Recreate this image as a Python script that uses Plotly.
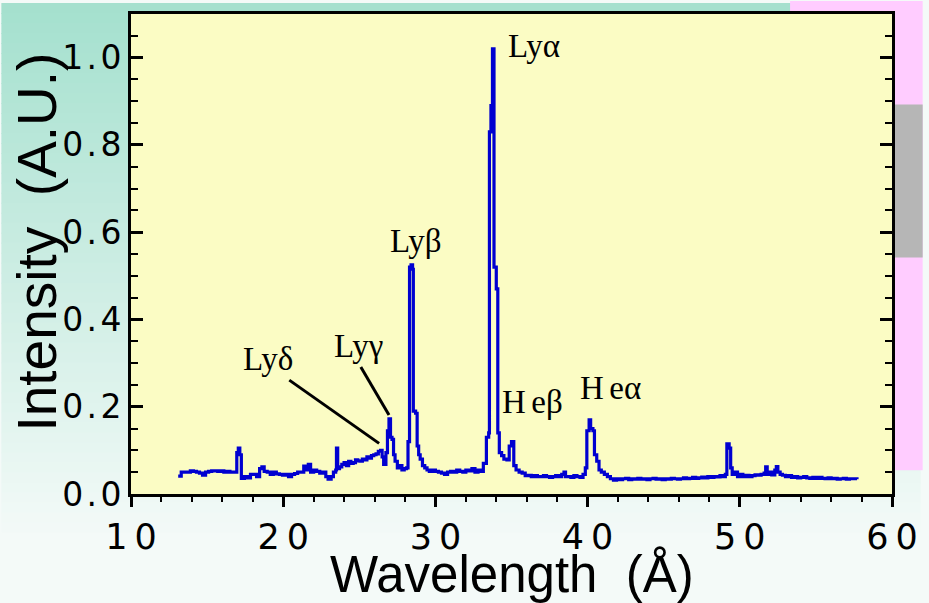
import plotly.graph_objects as go

# Spectrum: wavelength (Angstrom) and relative intensity
wavelength = [
    13.1, 13.3, 13.5, 13.7, 13.9, 14.1, 14.3, 14.5, 14.7, 14.9, 15.1, 15.3, 15.5, 15.7, 15.9,
    16.1, 16.3, 16.5, 16.7, 16.9, 16.95, 17.05, 17.15, 17.25, 17.45, 17.65, 17.85, 18.05, 18.25,
    18.45, 18.6, 18.75, 18.95, 19.15, 19.35, 19.55, 19.75, 19.95, 20.15, 20.35, 20.55, 20.75,
    20.95, 21.15, 21.35, 21.5, 21.65, 21.8, 22.0, 22.2, 22.4, 22.6, 22.8, 22.95, 23.15, 23.3,
    23.45, 23.5, 23.58, 23.7, 23.85, 24.0, 24.15, 24.3, 24.45, 24.6, 24.75, 24.9, 25.05, 25.2,
    25.35, 25.5, 25.65, 25.8, 25.95, 26.1, 26.25, 26.4, 26.5, 26.6, 26.75, 26.85, 26.95, 27.05,
    27.15, 27.25, 27.35, 27.5, 27.65, 27.8, 27.95, 28.1, 28.2, 28.3, 28.4, 28.5, 28.55, 28.7,
    28.8, 28.9, 29.0, 29.15, 29.3, 29.45, 29.6, 29.8, 30.0, 30.2, 30.4, 30.6, 30.8, 31.0, 31.2,
    31.4, 31.6, 31.8, 32.0, 32.2, 32.4, 32.6, 32.8, 33.0, 33.15, 33.35, 33.5, 33.55, 33.65,
    33.75, 33.85, 34.0, 34.1, 34.2, 34.35, 34.5, 34.7, 34.85, 35.0, 35.15, 35.3, 35.5, 35.7,
    35.9, 36.1, 36.3, 36.5, 36.7, 36.9, 37.1, 37.3, 37.5, 37.7, 37.9, 38.1, 38.3, 38.45, 38.55,
    38.7, 38.9, 39.1, 39.3, 39.5, 39.7, 39.85, 39.95, 40.1, 40.2, 40.35, 40.45, 40.6, 40.75,
    40.9, 41.1, 41.3, 41.5, 41.7, 41.9, 42.1, 42.3, 42.5, 42.7, 42.9, 43.1, 43.3, 43.5, 43.7,
    43.9, 44.1, 44.3, 44.5, 44.7, 44.9, 45.1, 45.3, 45.5, 45.7, 45.9, 46.1, 46.3, 46.5, 46.7,
    46.9, 47.1, 47.3, 47.5, 47.7, 47.9, 48.1, 48.3, 48.5, 48.7, 48.9, 49.05, 49.15, 49.3, 49.4,
    49.5, 49.7, 49.85, 50.0, 50.2, 50.4, 50.6, 50.8, 51.0, 51.2, 51.4, 51.6, 51.7, 51.8, 51.95,
    52.1, 52.3, 52.4, 52.5, 52.65, 52.8, 53.0, 53.2, 53.4, 53.6, 53.8, 54.0, 54.2, 54.4, 54.6,
    54.8, 55.0, 55.2, 55.4, 55.6, 55.8, 56.0, 56.2, 56.4, 56.6, 56.8, 57.0, 57.2, 57.4, 57.7,
]
intensity = [
    0.041, 0.050, 0.050, 0.050, 0.053, 0.052, 0.050, 0.048, 0.043, 0.050, 0.052, 0.053, 0.053, 0.052, 0.053,
    0.050, 0.052, 0.050, 0.050, 0.050, 0.095, 0.105, 0.090, 0.036, 0.040, 0.037, 0.045, 0.045, 0.040,
    0.058, 0.062, 0.052, 0.050, 0.045, 0.050, 0.046, 0.045, 0.043, 0.045, 0.040, 0.045, 0.047,
    0.050, 0.050, 0.064, 0.055, 0.068, 0.050, 0.055, 0.052, 0.048, 0.050, 0.040, 0.034, 0.040, 0.050,
    0.055, 0.105, 0.058, 0.062, 0.068, 0.072, 0.065, 0.075, 0.070, 0.072, 0.078, 0.076, 0.075, 0.080,
    0.078, 0.085, 0.082, 0.088, 0.090, 0.092, 0.098, 0.100, 0.085, 0.068, 0.095, 0.145, 0.172, 0.130,
    0.125, 0.090, 0.075, 0.060, 0.065, 0.055, 0.058, 0.060, 0.120, 0.520, 0.525, 0.515, 0.190, 0.185,
    0.110, 0.090, 0.080, 0.065, 0.060, 0.055, 0.052, 0.055, 0.052, 0.050, 0.048, 0.045, 0.050, 0.052, 0.050,
    0.055, 0.052, 0.050, 0.055, 0.053, 0.058, 0.050, 0.055, 0.052, 0.070, 0.130, 0.140, 0.830, 0.890,
    1.020, 0.520, 0.470, 0.140, 0.095, 0.088, 0.080, 0.078, 0.110, 0.120, 0.065, 0.055, 0.050, 0.048,
    0.042, 0.043, 0.040, 0.042, 0.040, 0.040, 0.042, 0.040, 0.038, 0.040, 0.042, 0.040, 0.045, 0.050, 0.040,
    0.040, 0.038, 0.042, 0.040, 0.038, 0.045, 0.060, 0.145, 0.170, 0.150, 0.145, 0.090, 0.075, 0.055,
    0.050, 0.045, 0.040, 0.035, 0.032, 0.035, 0.033, 0.035, 0.036, 0.033, 0.035, 0.034, 0.036, 0.034, 0.035,
    0.033, 0.035, 0.036, 0.034, 0.035, 0.033, 0.035, 0.034, 0.036, 0.035, 0.034, 0.035, 0.037, 0.035, 0.036,
    0.038, 0.036, 0.037, 0.039, 0.037, 0.040, 0.038, 0.040, 0.039, 0.042, 0.040, 0.045, 0.115, 0.105, 0.060,
    0.045, 0.050, 0.040, 0.045, 0.040, 0.043, 0.040, 0.042, 0.044, 0.043, 0.045, 0.048, 0.062, 0.045, 0.050,
    0.044, 0.055, 0.063, 0.050, 0.045, 0.043, 0.040, 0.042, 0.038, 0.040, 0.037, 0.038, 0.040, 0.037, 0.036,
    0.038, 0.036, 0.038, 0.036, 0.035, 0.037, 0.035, 0.036, 0.034, 0.035, 0.036, 0.034, 0.035, 0.035, 0.034,
]

# Line identifications: label, text position (wavelength, intensity)
HAIR = "\u200a"
line_labels = ["Ly\u03b1", "Ly\u03b2", "Ly\u03b3", "Ly\u03b4",
               "H" + HAIR * 2 + "e\u03b2", "H" + HAIR * 2 + "e\u03b1"]
label_x = [36.46, 28.73, 24.95, 18.97, 36.36, 41.53]
label_y = [1.027, 0.579, 0.339, 0.310, 0.210, 0.244]

# Leader lines for the weak lines: (x0, y0, x1, y1)
leader_lines = [
    (20.40, 0.261, 26.30, 0.116),  # Ly delta
    (25.10, 0.291, 26.95, 0.181),  # Ly gamma
]

x_ticks = [10, 20, 30, 40, 50, 60]
y_ticks = [0.0, 0.2, 0.4, 0.6, 0.8, 1.0]

THIN = "\u2009"
x_tick_text = [THIN.join(str(v)) for v in x_ticks]
y_tick_text = [HAIR.join("%.1f" % v) for v in y_ticks]

W, H = 929, 603
ML, MR, MT, MB = 131, 29, 11, 109
PW, PH = W - ML - MR, H - MT - MB


def px_to_paper_x(px):
    return (px - ML) / PW


def px_to_paper_y(py):
    return (H - MB - py) / PH


def mix(c1, c2, t):
    return "rgb(%d,%d,%d)" % tuple(round(a + (b - a) * t) for a, b in zip(c1, c2))


shapes = []
# vertical teal-to-white page gradient
top_c, bot_c = (164, 224, 206), (244, 250, 248)
n_bands = 60
band_h = H / n_bands
for i in range(n_bands):
    t = min(1.0, (i + 0.5) / n_bands * 1.12)
    shapes.append(dict(
        type="rect", xref="paper", yref="paper", layer="below",
        x0=px_to_paper_x(0), x1=px_to_paper_x(W),
        y0=px_to_paper_y(i * band_h), y1=px_to_paper_y((i + 1) * band_h + 1),
        fillcolor=mix(top_c, bot_c, t), line=dict(width=0),
    ))
# pink panel and grey block at the right
shapes.append(dict(type="rect", xref="paper", yref="paper", layer="below",
                   x0=px_to_paper_x(797), x1=px_to_paper_x(W + 2),
                   y0=px_to_paper_y(470), y1=px_to_paper_y(-2),
                   fillcolor="#ffccff", line=dict(width=0)))
shapes.append(dict(type="rect", xref="paper", yref="paper", layer="below",
                   x0=px_to_paper_x(900), x1=px_to_paper_x(W + 2),
                   y0=px_to_paper_y(256), y1=px_to_paper_y(102),
                   fillcolor="#b6b6b6", line=dict(width=0)))
# plot area fill
shapes.append(dict(type="rect", xref="paper", yref="paper", layer="below",
                   x0=0, x1=1, y0=0, y1=1, fillcolor="#fbfcc4", line=dict(width=0)))
# leader lines
for x0, y0, x1, y1 in leader_lines:
    shapes.append(dict(type="line", xref="x", yref="y", x0=x0, y0=y0, x1=x1, y1=y1,
                       line=dict(color="black", width=3)))

annotations = []
for txt, lx, ly in zip(line_labels, label_x, label_y):
    annotations.append(dict(
        text=txt, x=lx, y=ly, xref="x", yref="y", showarrow=False,
        xanchor="center", yanchor="middle",
        font=dict(family="Liberation Serif", size=33, color="black"),
    ))

# axis titles
annotations.append(dict(
    text="Wavelength\u00a0\u00a0(\u00c5)", x=px_to_paper_x(516), y=px_to_paper_y(575),
    xref="paper", yref="paper", showarrow=False, xanchor="center", yanchor="middle",
    font=dict(family="Liberation Sans", size=51, color="black"),
))
annotations.append(dict(
    text="Intensity\u00a0\u00a0(A.U.)", x=px_to_paper_x(36), y=px_to_paper_y(240),
    xref="paper", yref="paper", showarrow=False, xanchor="center", yanchor="middle",
    textangle=-90, font=dict(family="Liberation Sans", size=55, color="black"),
))

fig = go.Figure()
fig.add_trace(go.Scatter(
    x=wavelength, y=intensity, mode="lines",
    line=dict(color="#0000d0", width=3.2, shape="hv"),
    hoverinfo="skip", showlegend=False,
))

fig.update_layout(
    width=W, height=H,
    margin=dict(l=ML, r=MR, t=MT, b=MB, pad=0),
    paper_bgcolor="#f4faf8", plot_bgcolor="rgba(0,0,0,0)",
    shapes=shapes, annotations=annotations, showlegend=False,
)
fig.update_xaxes(
    range=[10, 60], tickvals=x_ticks, ticktext=x_tick_text,
    ticks="outside", ticklen=10, tickwidth=2.5, tickcolor="black",
    minor=dict(dtick=2, tick0=10, ticks="outside", ticklen=5, tickwidth=2, tickcolor="black"),
    showline=True, linewidth=3, linecolor="black", mirror=True,
    showgrid=False, zeroline=False,
    tickfont=dict(family="DejaVu Sans", size=35, color="black"),
)
fig.update_yaxes(
    range=[0, 1.1], tickvals=y_ticks, ticktext=y_tick_text,
    ticks="inside", ticklen=12, tickwidth=2.5, tickcolor="black",
    minor=dict(dtick=0.05, tick0=0, ticks="inside", ticklen=7, tickwidth=2, tickcolor="black"),
    showline=True, linewidth=3, linecolor="black", mirror="ticks",
    showgrid=False, zeroline=False,
    tickfont=dict(family="DejaVu Sans", size=33, color="black"),
)

fig.write_html("out.html")
